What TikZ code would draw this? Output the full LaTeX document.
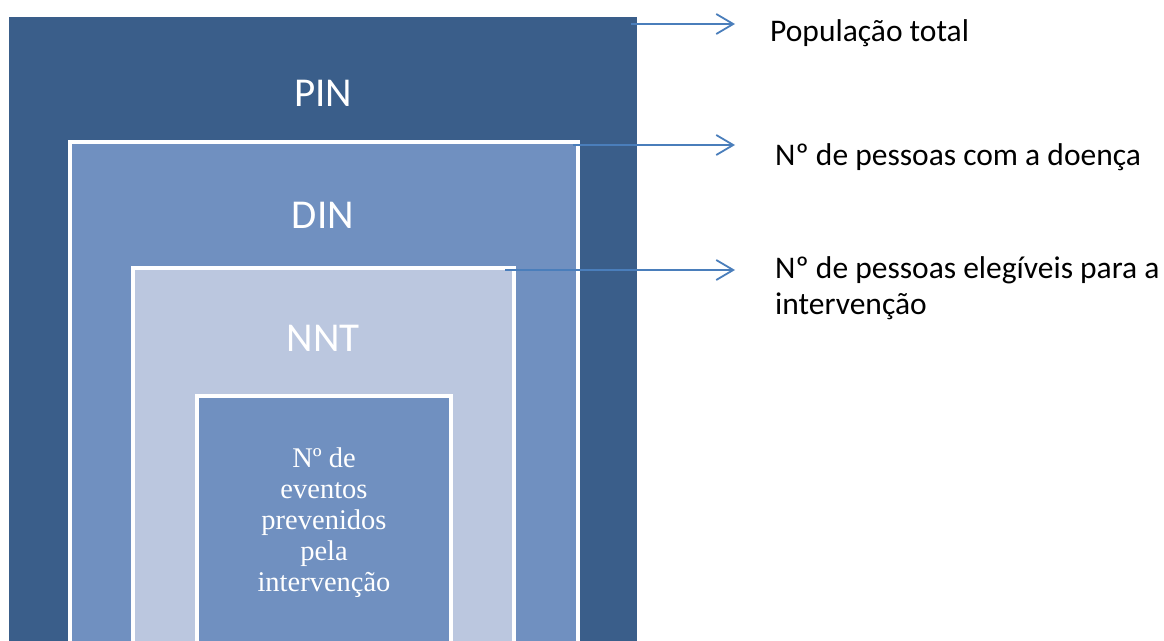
\documentclass[tikz,border=0pt]{standalone}
\usepackage{fontspec}
\setmainfont{Carlito}
\newfontfamily\timesfont{Liberation Serif}
\usetikzlibrary{arrows.meta,positioning}
\definecolor{popblue}{HTML}{3A5E8A}
\definecolor{midblue}{HTML}{7090C0}
\definecolor{paleblue}{HTML}{BBC7DF}
\definecolor{arrowblue}{HTML}{4A7EBB}

\begin{document}
\begin{tikzpicture}[x=1pt,y=-1pt,
          layer/.style={rectangle, anchor=north west, outer sep=0pt, inner sep=0pt},
          framed/.style={layer, draw=white, line width=4pt},
          tag/.style={font=\fontsize{41}{48}\selectfont, text=white},
          note/.style={anchor=west, align=left, font=\fontsize{31.5}{36}\selectfont, inner sep=0pt},
          arr/.style={-{Straight Barb[length=17pt,width=20pt,line width=1.8pt]}, draw=arrowblue, line width=1.8pt}]
        \useasboundingbox (0,0) rectangle (1164,640);
        \clip (0,0) rectangle (1164,640);
        % nested boxes
        \node[layer, fill=popblue, minimum width=628pt, minimum height=700pt] (pin) at (9,17) {};
        \node[framed, fill=midblue, minimum width=508pt, minimum height=600pt] (din) at (70,142) {};
        \node[framed, fill=paleblue, minimum width=381pt, minimum height=500pt] (nnt) at (133,268) {};
        \node[framed, fill=midblue, minimum width=254pt, minimum height=400pt] (evt) at (196.5,395.5) {};
        \node[tag] (pinlbl) at (323,93) {PIN};
        \node[tag] (dinlbl) at (323,215) {DIN};
        \node[tag] (nntlbl) at (323,338) {NNT};
        \node[text=white, align=center, font=\timesfont\fontsize{28.5}{31}\selectfont] (evtlbl) at (324,523)
          {Nº de\\eventos\\prevenidos\\pela\\intervenção};
        % labels on the right
        \node[note] (poplbl) at (770,33) {População total};
        \node[note] (doelbl) at (775,157) {Nº de pessoas com a doença};
        \node[note] (elglbl) at (775,288) {Nº de pessoas elegíveis para a\\intervenção};
        \coordinate (poptip) at (735,24);
        \coordinate (doetip) at (735,145);
        \coordinate (elgtip) at (735,270);
        \draw[arr] ([xshift=-6pt,yshift=-7pt]pin.north east) -- (poptip);
        \draw[arr] ([xshift=-5pt,yshift=-3pt]din.north east) -- (doetip);
        \draw[arr] ([xshift=-9pt,yshift=-2pt]nnt.north east) -- (elgtip);
      \end{tikzpicture}
\end{document}
